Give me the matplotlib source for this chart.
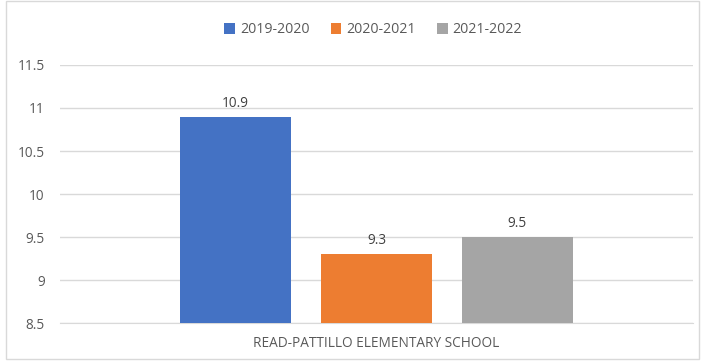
import matplotlib.pyplot as plt
from matplotlib.patches import Rectangle

school = 'READ-PATTILLO ELEMENTARY SCHOOL'
years = ['2019-2020', '2020-2021', '2021-2022']
values = [10.9, 9.3, 9.5]
colors = ['#4472C4', '#ED7D31', '#A5A5A5']

plt.rcParams['font.family'] = ['Open Sans', 'DejaVu Sans']
text_color = '#595959'

fig = plt.figure(figsize=(7.02, 3.63), dpi=100)
ax = fig.add_axes([0.0855, 0.110, 0.9015, 0.711])

# outer frame of the chart area
fig.patches.append(Rectangle((0.008, 0.012), 0.988, 0.985, transform=fig.transFigure,
                             fill=False, edgecolor='#d9d9d9', linewidth=1))

offsets = [-1, 0, 1]
for off, yr, v, c in zip(offsets, years, values, colors):
    ax.bar(off, v - 8.5, bottom=8.5, width=0.787, color=c, label=yr, zorder=3)
    ax.text(off, v + 0.07, f'{v}', ha='center', va='bottom', fontsize=9.8, color='#404040')

ax.set_ylim(8.5, 11.5)
ax.set_xlim(-2.245, 2.245)
ax.set_yticks([8.5, 9, 9.5, 10, 10.5, 11, 11.5])
ax.set_yticklabels(['8.5', '9', '9.5', '10', '10.5', '11', '11.5'])
ax.set_xticks([0])
ax.set_xticklabels([school])
ax.tick_params(axis='both', length=0, labelsize=9.8, labelcolor=text_color)
ax.tick_params(axis='y', pad=11)
ax.tick_params(axis='x', pad=9)
ax.grid(axis='y', color='#d9d9d9', linewidth=1, zorder=0)
for s in ['top', 'right', 'left']:
    ax.spines[s].set_visible(False)
ax.spines['bottom'].set_color('#d9d9d9')

ax.legend(loc='center', bbox_to_anchor=(0.495, 1.136), ncol=3, frameon=False,
          fontsize=10.2, labelcolor=text_color, handlelength=0.75, handleheight=0.75,
          handletextpad=0.35, columnspacing=1.5)

fig.savefig('out.png', dpi=100)
